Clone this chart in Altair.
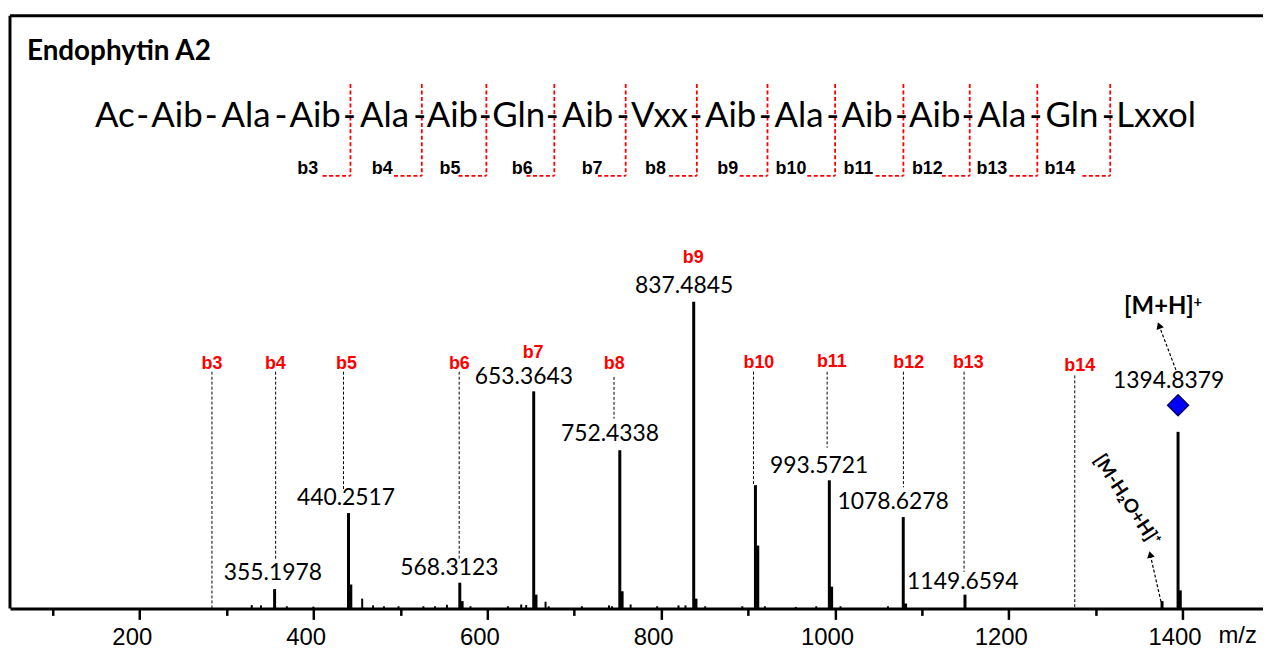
import altair as alt
import pandas as pd

X_DOMAIN = [50.7, 1492.6]
Y_DOMAIN = [0, 193.3]

# ---- spectrum: labelled peaks (m/z, relative intensity %) ----
major_mz = [355.1978, 440.2517, 568.3123, 653.3643, 752.4338, 837.4845, 908.52,
            993.5721, 1078.6278, 1149.6594, 1394.8379]
major_int = [6.3, 31.1, 8.4, 70.8, 51.6, 100.0, 40.2, 41.8, 29.8, 4.5, 57.6]

# shoulder / isotope peaks next to the main ones
iso_mz = [442.9, 571.0, 656.0, 755.1, 840.1, 911.2, 996.2, 1081.3, 1397.4, 1376.4]
iso_int = [7.8, 2.4, 4.5, 5.6, 3.2, 20.5, 7.1, 1.6, 5.9, 2.4]

# small background peaks
minor_mz = [328.9, 339.5, 369.3, 399.8, 456.0, 468.5, 481.0, 497.8, 526.4, 539.8,
            553.5, 580.6, 623.7, 639.0, 644.7, 667.0, 670.6, 708.8, 740.0, 743.5,
            764.9, 795.4, 820.0, 828.0, 850.7, 893.4, 919.4, 954.9, 978.5, 1006.4,
            1061.0]
minor_int = [1.1, 1.0, 0.7, 0.6, 3.2, 1.0, 0.7, 0.7, 0.7, 0.7,
             1.2, 0.7, 0.7, 1.3, 1.1, 2.2, 0.7, 0.7, 1.0, 0.7,
             1.3, 0.7, 1.0, 1.0, 0.7, 0.7, 0.7, 0.5, 0.7, 0.7,
             0.7]

# ---- peak value labels ----
peak_label_text = ["355.1978", "440.2517", "568.3123", "653.3643", "752.4338",
                   "837.4845", "993.5721", "1078.6278", "1149.6594", "1394.8379"]
peak_label_x = [353.3, 437.4, 556.4, 642.0, 741.2, 826.5, 981.9, 1067.0, 1147.2, 1384.0]
peak_label_y = [11.5, 35.9, 13.2, 75.5, 56.8, 105.1, 46.5, 34.6, 8.7, 74.1]

# ---- b-ion labels in the spectrum (red) ----
b_ions = ["b3", "b4", "b5", "b6", "b7", "b8", "b9", "b10", "b11", "b12", "b13", "b14"]
b_label_x = [283.1, 356.1, 438.0, 567.8, 652.7, 746.1, 837.0, 912.5, 996.4, 1084.9, 1153.5, 1281.7]
b_label_y = [79.8, 79.8, 79.8, 79.8, 83.3, 79.8, 114.4, 80.1, 80.4, 80.1, 80.1, 79.1]

# dashed guide lines under b-ion labels
b_line_x = [283.1, 356.4, 434.5, 567.6, 745.8, 906.3, 991.0, 1078.8, 1148.6, 1276.0]
b_line_top = [77.2, 77.2, 77.2, 77.2, 75.5, 77.2, 77.2, 77.2, 77.2, 76.0]
b_line_bottom = [0.0, 16.2, 38.7, 16.2, 61.9, 40.5, 52.4, 39.5, 11.9, 0.0]

# ---- peptide sequence ----
residues = ["Ac", "Aib", "Ala", "Aib", "Ala", "Aib", "Gln", "Aib", "Vxx", "Aib",
            "Ala", "Aib", "Aib", "Ala", "Gln", "Lxxol"]
residue_x = [171.3, 242.85, 322.35, 401.9, 481.75, 559.85, 636.2, 715.45, 798.15, 879.95,
             958.6, 1037.0, 1114.85, 1192.1, 1272.75, 1369.5]
hyphen_x = [203.4, 282.3, 362.4, 441.4, 522.1, 597.6, 674.8, 756.1, 840.2, 919.7,
            997.5, 1076.5, 1153.2, 1231.0, 1314.5]
seq_y = 157.0

bracket_x = [442.5, 524.6, 598.9, 677.1, 759.2, 841.1, 922.4, 1000.2, 1078.8, 1155.1, 1232.9, 1316.8]
bracket_left = [410.5, 492.6, 566.9, 645.1, 727.2, 809.1, 890.4, 968.2, 1046.8, 1123.1, 1200.9, 1284.8]
bracket_top = 171.0
bracket_bottom = 141.1
seq_b_label_x = [393.3, 479.1, 557.0, 640.2, 720.6, 793.5, 876.6, 949.5, 1027.0, 1106.3, 1180.6, 1258.8]
seq_b_label_y = 143.4

# ---- precursor annotations ----
precursor_mz = [1394.8379]
precursor_marker_y = [66.3]
arrow_x1 = [1392.4, 1375.2]
arrow_y1 = [77.8, 2.2]
arrow_x2 = [1373.0, 1362.8]
arrow_y2 = [92.3, 17.6]
arrow_angle = [339, 347]

title_text = ["Endophytin A2"]
title_x = [70.2]
title_y = [181.6]

xs = alt.Scale(domain=X_DOMAIN, nice=False, zero=False)
ys = alt.Scale(domain=Y_DOMAIN, nice=False, zero=False)
xaxis = alt.Axis(
    values=list(range(100, 1500, 100)),
    format="d",
    labelExpr="datum.value % 200 === 0 ? datum.label : ''",
    tickSize={"condition": {"test": "datum.value % 200 === 0", "value": 11}, "value": 7},
    tickColor="black", tickWidth=2.5,
    domainColor="black", domainWidth=3,
    labelFont="Liberation Sans", labelFontSize=24, labelColor="black",
    labelPadding=6, labelOffset=-8, labelOverlap=False, labelFlush=False,
    grid=False,
    title="m/z", titleX=1234, titleY=27, titleFont="Liberation Sans",
    titleFontSize=24, titleFontWeight="normal", titleColor="black",
    titleAlign="center", titleBaseline="middle", titleAngle=0,
)


def X(f):
    return alt.X(f, type="quantitative", scale=xs, axis=xaxis)


def Y(f):
    return alt.Y(f, type="quantitative", scale=ys, axis=None)


def peaks(mz, inten, width):
    df = pd.DataFrame({"mz": mz, "i": inten, "z": [0.0] * len(mz)})
    return alt.Chart(df).mark_rule(color="black", strokeWidth=width).encode(
        x=X("mz"), y=Y("i"), y2="z:Q")


def texts(xv, yv, tv, font, size, weight="normal", color="black",
          align="center", baseline="middle", angle=0):
    df = pd.DataFrame({"x": xv, "y": yv, "t": tv})
    return alt.Chart(df).mark_text(
        font=font, fontSize=size, fontWeight=weight, color=color,
        align=align, baseline=baseline, angle=angle).encode(
        x=X("x"), y=Y("y"), text="t:N")


layers = []
layers.append(peaks(minor_mz, minor_int, 2))
layers.append(peaks(iso_mz, iso_int, 3))
layers.append(peaks(major_mz, major_int, 3))

bl = pd.DataFrame({"x": b_line_x, "y1": b_line_top, "y2": b_line_bottom})
layers.append(alt.Chart(bl).mark_rule(color="black", strokeWidth=1, strokeDash=[3, 2]).encode(
    x=X("x"), y=Y("y1"), y2="y2:Q"))

# red brackets in the sequence
bv = pd.DataFrame({"x": bracket_x, "y1": [bracket_top] * len(bracket_x),
                   "y2": [bracket_bottom] * len(bracket_x)})
layers.append(alt.Chart(bv).mark_rule(color="#ff0000", strokeWidth=1.8, strokeDash=[4, 2.5]).encode(
    x=X("x"), y=Y("y1"), y2="y2:Q"))
bh = pd.DataFrame({"x1": bracket_left, "x2": bracket_x, "y": [bracket_bottom] * len(bracket_x)})
layers.append(alt.Chart(bh).mark_rule(color="#ff0000", strokeWidth=1.8, strokeDash=[4, 2.5]).encode(
    x=X("x1"), x2="x2:Q", y=Y("y")))

# arrows
ar = pd.DataFrame({"x1": arrow_x1, "y1": arrow_y1, "x2": arrow_x2, "y2": arrow_y2})
layers.append(alt.Chart(ar).mark_rule(color="black", strokeWidth=1.2, strokeDash=[3, 2]).encode(
    x=X("x1"), y=Y("y1"), x2="x2:Q", y2="y2:Q"))
ah = pd.DataFrame({"x": arrow_x2, "y": arrow_y2, "a": arrow_angle})
layers.append(alt.Chart(ah).mark_point(shape="triangle-up", filled=True, size=60,
                                       color="black", opacity=1).encode(
    x=X("x"), y=Y("y"), angle=alt.Angle("a:Q", scale=None)))

# diamond marker on precursor
dm = pd.DataFrame({"x": precursor_mz, "y": precursor_marker_y})
layers.append(alt.Chart(dm).mark_point(shape="diamond", size=440, filled=True, fill="#0000ff",
                                       stroke="#000070", strokeWidth=1.5, opacity=1).encode(
    x=X("x"), y=Y("y")))

# texts
layers.append(texts(peak_label_x, peak_label_y, peak_label_text, "Lato", 23))
layers.append(texts(b_label_x, b_label_y, b_ions, "Liberation Sans", 18, "bold", "#ff0000"))
layers.append(texts(residue_x, [seq_y] * len(residues), residues, "Lato", 35, baseline="alphabetic"))
layers.append(texts(hyphen_x, [seq_y] * len(hyphen_x), ["-"] * len(hyphen_x), "Lato", 35,
                    baseline="alphabetic"))
layers.append(texts(seq_b_label_x, [seq_b_label_y] * len(b_ions), b_ions, "Liberation Sans", 18, "bold"))
layers.append(texts(title_x, title_y, title_text, "Lato", 28, "bold", align="left"))
layers.append(texts([1372.9], [98.2], ["[M+H]"], "Lato", 24, "bold"))
layers.append(texts([1417.6], [100.0], ["+"], "Lato", 15, "bold"))
layers.append(texts([1335.9], [35.3], ["[M-H\u2082O+H]\u207a"], "Lato, DejaVu Sans", 19, "bold", angle=57))

# frame (left and top borders)
one = pd.DataFrame({"a": [0]})
layers.append(alt.Chart(one).mark_rule(color="black", strokeWidth=3).encode(
    x=alt.value(0), y=alt.value(0), y2=alt.value(596)))
layers.append(alt.Chart(one).mark_rule(color="black", strokeWidth=3).encode(
    x=alt.value(0), x2=alt.value(1260), y=alt.value(0)))

chart = alt.layer(*layers).properties(
    width=1260, height=596,
    padding={"left": 2, "top": 6, "right": 0, "bottom": 40},
    autosize=alt.AutoSizeParams(type="none"),
    background="white",
).configure_view(stroke=None)

chart.save("out.html", embed_options={"renderer": "svg", "actions": False})
